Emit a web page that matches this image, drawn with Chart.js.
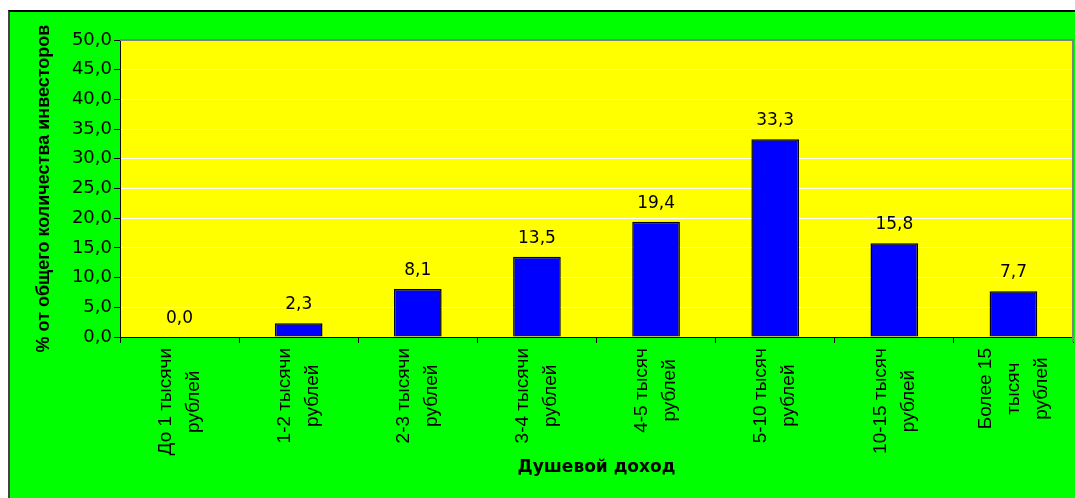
<!DOCTYPE html>
<html lang="ru">
<head>
    <meta charset="UTF-8">
    <title>Душевой доход</title>
    <script src="https://cdn.jsdelivr.net/npm/chart.js"></script>
    <style>
        body {
            margin: 0;
            background: #ffffff;
            overflow: hidden;
        }
        #wrap {
            position: absolute;
            left: 8px;
            top: 10px;
            width: 1065px;
            height: 486px;
            background: #00ff00;
            border-top: 2px solid #000000;
            border-left: 2px solid #444444;
        }
        #incomeChart {
            display: block;
        }
    </style>
</head>
<body>
    <div id="wrap">
        <canvas id="incomeChart" width="1065" height="486"></canvas>
    </div>
    <script>
        // категории дохода (строки подписи)
        const categories = [
            ["До 1 тысячи", "рублей"],
            ["1-2 тысячи", "рублей"],
            ["2-3 тысячи", "рублей"],
            ["3-4 тысячи", "рублей"],
            ["4-5 тысяч", "рублей"],
            ["5-10 тысяч", "рублей"],
            ["10-15 тысяч", "рублей"],
            ["Более 15", "тысяч", "рублей"]
        ];
        const shares = [0.0, 2.3, 8.1, 13.5, 19.4, 33.3, 15.8, 7.7];
        const yMin = 0;
        const yMax = 50;
        const yStep = 5;

        const fmt = (v) => v.toFixed(1).replace(".", ",");

        const plotBackground = {
            id: "plotBackground",
            beforeDraw(chart) {
                const { ctx, chartArea: a } = chart;
                ctx.save();
                ctx.fillStyle = "#ffff00";
                ctx.fillRect(a.left, a.top, a.right - a.left, a.bottom - a.top);
                ctx.restore();
            },
            afterDraw(chart) {
                const { ctx, chartArea: a } = chart;
                ctx.save();
                ctx.strokeStyle = "#808080";
                ctx.lineWidth = 2;
                ctx.beginPath();
                ctx.moveTo(a.left, a.top);
                ctx.lineTo(a.right, a.top);
                ctx.lineTo(a.right, a.bottom + 5);
                ctx.stroke();
                ctx.restore();
            }
        };

        const valueLabels = {
            id: "valueLabels",
            afterDatasetsDraw(chart) {
                const { ctx } = chart;
                const meta = chart.getDatasetMeta(0);
                ctx.save();
                ctx.font = '17px "DejaVu Sans"';
                ctx.fillStyle = "#000000";
                ctx.textAlign = "center";
                ctx.textBaseline = "alphabetic";
                meta.data.forEach((bar, i) => {
                    ctx.fillText(fmt(shares[i]), bar.x, bar.y - 14);
                });
                ctx.restore();
            }
        };

        // подписи категорий: вертикально, строки по центру
        const categoryLabels = {
            id: "categoryLabels",
            afterDraw(chart) {
                const { ctx } = chart;
                const xs = chart.scales.x;
                const lineGap = 28;
                ctx.save();
                ctx.font = '19px "Liberation Sans"';
                ctx.fillStyle = "#000000";
                ctx.textAlign = "center";
                ctx.textBaseline = "middle";
                categories.forEach((lines, i) => {
                    const cx = xs.getPixelForValue(i);
                    const maxW = Math.max(...lines.map((t) => ctx.measureText(t).width));
                    ctx.save();
                    ctx.translate(cx, xs.top + 11 + maxW / 2);
                    ctx.rotate(-Math.PI / 2);
                    lines.forEach((t, j) => {
                        ctx.fillText(t, 0, (j - (lines.length - 1) / 2) * lineGap);
                    });
                    ctx.restore();
                });
                ctx.restore();
            }
        };

        document.addEventListener("DOMContentLoaded", () => {
            const ctx = document.getElementById("incomeChart").getContext("2d");
            new Chart(ctx, {
                type: "bar",
                data: {
                    labels: categories,
                    datasets: [{
                        data: shares,
                        backgroundColor: "#0000ff",
                        borderColor: "#000000",
                        borderWidth: 1.5,
                        categoryPercentage: 1,
                        barPercentage: 0.4
                    }]
                },
                options: {
                    responsive: false,
                    devicePixelRatio: 1,
                    animation: false,
                    layout: { padding: { left: 0, top: 28, right: 2, bottom: 0 } },
                    plugins: {
                        legend: { display: false },
                        tooltip: { enabled: false }
                    },
                    scales: {
                        x: {
                            afterFit: (scale) => { scale.height = 161; },
                            grid: {
                                offset: true,
                                drawOnChartArea: false,
                                tickLength: 6,
                                tickColor: "#000000"
                            },
                            border: { color: "#000000", width: 1 },
                            ticks: { display: false },
                            title: {
                                display: true,
                                text: "Душевой доход",
                                color: "#000000",
                                font: { family: "DejaVu Sans", size: 17, weight: "bold", lineHeight: 1.2 },
                                padding: { top: 0, bottom: 20 }
                            }
                        },
                        y: {
                            min: yMin,
                            max: yMax,
                            afterFit: (scale) => { scale.width = 110; },
                            grid: {
                                color: "#ffffff",
                                lineWidth: 1,
                                tickLength: 6,
                                tickColor: "#000000"
                            },
                            border: { color: "#000000", width: 1 },
                            ticks: {
                                stepSize: yStep,
                                padding: 2,
                                color: "#000000",
                                font: { family: "DejaVu Sans", size: 18 },
                                callback: (v) => fmt(v)
                            },
                            title: {
                                display: true,
                                text: "% от общего количества инвесторов",
                                color: "#000000",
                                font: { family: "Liberation Sans", size: 18, weight: "bold", lineHeight: 1.2 },
                                padding: { top: 23, bottom: 0 }
                            }
                        }
                    }
                },
                plugins: [plotBackground, valueLabels, categoryLabels]
            });
        });
    </script>
</body>
</html>
